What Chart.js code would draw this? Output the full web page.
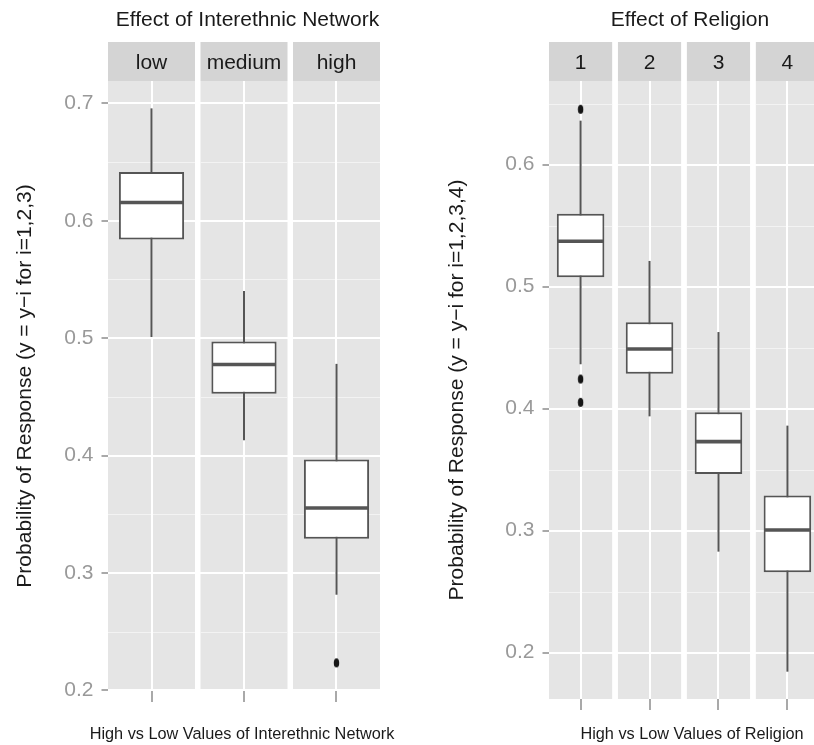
<!DOCTYPE html>
<html><head><meta charset="utf-8">
<script src="https://cdn.jsdelivr.net/npm/chart.js@4.4.1/dist/chart.umd.min.js"></script>
<style>
html,body{margin:0;padding:0;background:#fff;overflow:hidden;width:814px;height:745px;}
#wrap{position:relative;width:814px;height:745px;overflow:hidden;}
canvas{position:absolute;top:0;}
#c1{left:0}
#c2{left:405px}
</style></head><body>
<div id="wrap"><canvas id="c1" width="405" height="745"></canvas><canvas id="c2" width="420" height="745"></canvas></div>
<script>
// ---------- data: Effect of Interethnic Network ----------
const networkCategories   = ['low', 'medium', 'high'];
const networkWhiskerLow   = [0.501, 0.413, 0.2815];
const networkQ1           = [0.584, 0.4526, 0.3292];
const networkMedian       = [0.6155, 0.4776, 0.3553];
const networkQ3           = [0.6416, 0.4971, 0.3966];
const networkWhiskerHigh  = [0.6957, 0.5402, 0.4781];
const networkOutliers     = [[], [], [0.2235]];
const networkYTicks       = [0.2, 0.3, 0.4, 0.5, 0.6, 0.7];
const networkYMinor       = [0.25, 0.35, 0.45, 0.55, 0.65];

// ---------- data: Effect of Religion ----------
const religionCategories  = ['1', '2', '3', '4'];
const religionWhiskerLow  = [0.4364, 0.3937, 0.2828, 0.1844];
const religionQ1          = [0.5077, 0.4287, 0.3465, 0.2659];
const religionMedian      = [0.5372, 0.4489, 0.3730, 0.3005];
const religionQ3          = [0.5598, 0.4708, 0.3970, 0.3289];
const religionWhiskerHigh = [0.6361, 0.5211, 0.4628, 0.3861];
const religionOutliers    = [[0.6454, 0.4243, 0.4052], [], [], []];
const religionYTicks      = [0.2, 0.3, 0.4, 0.5, 0.6];
const religionYMinor      = [0.25, 0.35, 0.45, 0.55, 0.65];

// ---------- rendering ----------
Chart.defaults.font.family = '"Liberation Sans", Arial, sans-serif';
const FONT = '"Liberation Sans", Arial, sans-serif';
const LINE = '#555555';
const PANEL = '#e5e5e5';
const STRIP = '#d4d4d4';
const TEXT = '#1a1a1a';

const dot = document.createElement('canvas');
dot.width = 7; dot.height = 11;
(function(){const c = dot.getContext('2d'); c.fillStyle = '#151515'; c.beginPath(); c.ellipse(3.5, 5.5, 2.7, 4.6, 0, 0, Math.PI*2); c.fill();})();

const facetPlugin = {
  id: 'facet',
  beforeDraw(chart, args, o) {
    const {ctx, chartArea: ca, scales: {x, y}} = chart;
    ctx.save();
    o.cats.forEach((c, i) => {
      const l = x.getPixelForValue(i + 1 - o.half), r = x.getPixelForValue(i + 1 + o.half);
      ctx.fillStyle = PANEL; ctx.fillRect(l, ca.top, r - l, ca.bottom - ca.top);
      ctx.fillStyle = STRIP; ctx.fillRect(l, ca.top - o.stripH, r - l, o.stripH);
      ctx.strokeStyle = '#f3f3f3'; ctx.lineWidth = 1;
      o.minor.forEach(v => {
        const py = Math.round(y.getPixelForValue(v)) + 0.5;
        ctx.beginPath(); ctx.moveTo(l, py); ctx.lineTo(r, py); ctx.stroke();
      });
      ctx.fillStyle = TEXT; ctx.font = '21px ' + FONT;
      ctx.textAlign = 'center'; ctx.textBaseline = 'alphabetic';
      ctx.fillText(c, (l + r) / 2, ca.top - o.stripH + o.stripBase);
    });
    ctx.fillStyle = TEXT; ctx.textAlign = 'center'; ctx.textBaseline = 'alphabetic';
    ctx.font = '21px ' + FONT;
    ctx.fillText(o.title, o.titleX, o.titleY);
    ctx.font = '16.3px ' + FONT;
    ctx.fillText(o.xTitle, o.xTitleX, o.xTitleY);
    ctx.restore();
  }
};

function makeChart(id, d, L) {
  const xs = d.cats.map((c, i) => i + 1);
  const halfBoxPx = ctx => {
    const x = ctx.chart.scales.x;
    return (x.getPixelForValue(1 + L.boxFrac / 2) - x.getPixelForValue(1)) - 1;
  };
  const datasets = [
    { type: 'scatter', order: 0,
      data: d.out.flatMap((arr, i) => arr.map(v => ({x: i + 1, y: v}))),
      pointStyle: dot, pointRadius: 5 },
    { type: 'scatter', order: 0,
      data: xs.map((x, i) => ({x, y: d.med[i]})),
      pointStyle: 'line', rotation: 0, pointRadius: halfBoxPx,
      borderColor: LINE, pointBorderColor: LINE, pointBorderWidth: 3.6, borderWidth: 3.6 },
    { type: 'bar', order: 1, grouped: false, inflateAmount: 0,
      data: xs.map((x, i) => ({x, y: [d.q1[i], d.q3[i]]})),
      backgroundColor: '#ffffff', borderColor: LINE, borderWidth: 2, borderSkipped: false,
      categoryPercentage: 1, barPercentage: L.boxFrac },
    { type: 'bar', order: 2, grouped: false, inflateAmount: 0,
      data: xs.map((x, i) => ({x, y: [d.wlo[i], d.whi[i]]})),
      backgroundColor: LINE, borderWidth: 0, barThickness: 2 }
  ];
  return new Chart(document.getElementById(id), {
    type: 'bar',
    data: { datasets },
    plugins: [facetPlugin],
    options: {
      responsive: false, animation: false, devicePixelRatio: 1,
      layout: { padding: { top: 81, left: 0, right: L.padRight, bottom: 0 } },
      plugins: {
        legend: { display: false }, tooltip: { enabled: false },
        facet: { cats: d.cats, half: L.half, minor: d.minor, stripH: 39, stripBase: 26.5,
                 title: d.title, titleX: L.titleX, titleY: 26,
                 xTitle: d.xTitle, xTitleX: L.xTitleX, xTitleY: 739 }
      },
      scales: {
        x: {
          type: 'linear', position: 'bottom', offset: false,
          min: 1 - L.half, max: d.cats.length + L.half,
          afterBuildTicks: s => { s.ticks = xs.map(v => ({value: v})); },
          afterFit: s => { s.height = 745 - L.bottom; },
          ticks: { display: false },
          grid: { offset: false, color: '#ffffff', lineWidth: 2, tickColor: '#8c8c8c', tickLength: 11, tickWidth: 1.5 },
          border: { display: false }
        },
        y: {
          type: 'linear', min: L.yMin, max: L.yMax,
          afterBuildTicks: s => { s.ticks = d.yTicks.map(v => ({value: v})); },
          afterFit: s => { s.width = L.left; },
          ticks: { callback: v => Number(v).toFixed(1), color: '#999999', font: { size: 21 }, padding: 8 },
          grid: { color: '#ffffff', lineWidth: 2, tickColor: '#8c8c8c', tickLength: 6.5, tickWidth: 1.5 },
          border: { display: false },
          title: { display: true, text: d.yTitle, color: TEXT, font: { size: 21 }, padding: { top: L.yTitlePad, bottom: 0 } }
        }
      }
    }
  });
}

makeChart('c1', {
  cats: networkCategories, wlo: networkWhiskerLow, q1: networkQ1, med: networkMedian,
  q3: networkQ3, whi: networkWhiskerHigh, out: networkOutliers,
  yTicks: networkYTicks, minor: networkYMinor,
  title: 'Effect of Interethnic Network',
  xTitle: 'High vs Low Values of Interethnic Network',
  yTitle: 'Probability of Response (y = y\u2212i for i=1,2,3)'
}, { half: 0.4703, boxFrac: 0.705, left: 108, padRight: 25, bottom: 691,
     yMin: 0.1995, yMax: 0.719, titleX: 247.5, xTitleX: 242, yTitlePad: 12.8 });

makeChart('c2', {
  cats: religionCategories, wlo: religionWhiskerLow, q1: religionQ1, med: religionMedian,
  q3: religionQ3, whi: religionWhiskerHigh, out: religionOutliers,
  yTicks: religionYTicks, minor: religionYMinor,
  title: 'Effect of Religion',
  xTitle: 'High vs Low Values of Religion',
  yTitle: 'Probability of Response (y = y\u2212i for i=1,2,3,4)'
}, { half: 0.4582, boxFrac: 0.69, left: 144, padRight: 4.2, bottom: 699,
     yMin: 0.162, yMax: 0.6686, titleX: 285, xTitleX: 287, yTitlePad: 40.1 });
</script>
</body></html>
